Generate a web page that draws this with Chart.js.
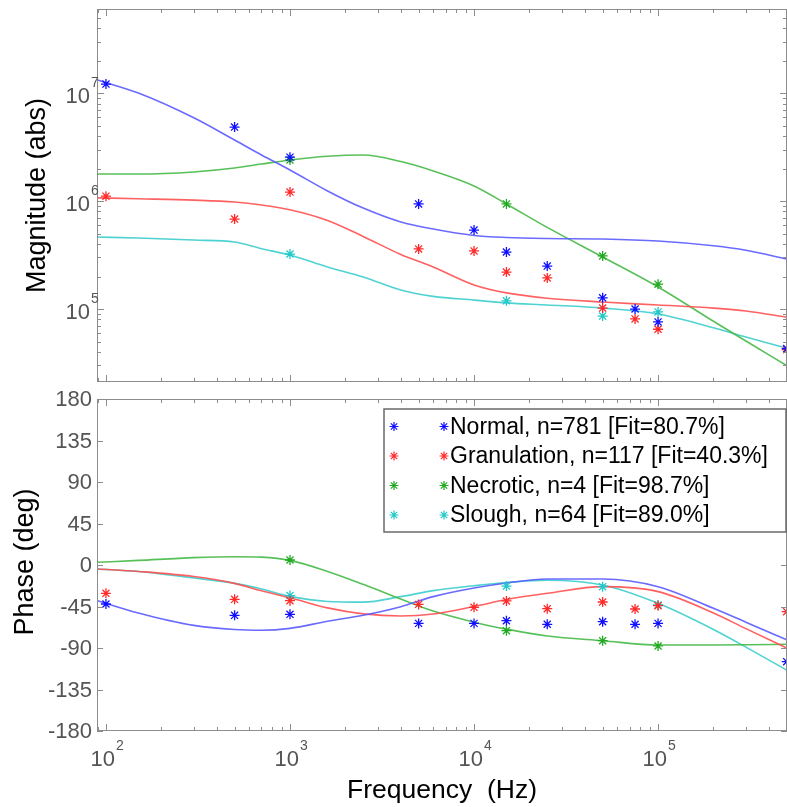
<!DOCTYPE html>
<html><head><meta charset="utf-8">
<script src="https://cdn.jsdelivr.net/npm/chart.js@4/dist/chart.umd.min.js"></script>
<style>
html,body{margin:0;padding:0;background:#fff;overflow:hidden;}
#wrap{position:relative;width:787px;height:807px;overflow:hidden;background:#fff;}
canvas{position:absolute;left:0;}
</style></head><body>
<div id="wrap">
<canvas id="mag" width="787" height="390" style="top:0px"></canvas>
<canvas id="ph" width="787" height="417" style="top:390px"></canvas>
</div>
<script>
// ---------- data ----------
const seriesLabels = ['Normal, n=781 [Fit=80.7%]', 'Granulation, n=117 [Fit=40.3%]', 'Necrotic, n=4 [Fit=98.7%]', 'Slough, n=64 [Fit=89.0%]'];
const freq = [100, 500, 1000, 5000, 10000, 15000, 25000, 50000, 75000, 100000, 500000];
const normalMag = [1.21e7, 4.84e6, 2.55e6, 9.4e5, 5.38e5, 3.37e5, 2.5e5, 1.27e5, 1.0e5, 7.6e4, 4.3e4];
const granMag   = [1.11e6, 6.8e5, 1.21e6, 3.6e5, 3.45e5, 2.2e5, 1.94e5, 1.02e5, 8.1e4, 6.5e4, 4.2e4];
const necMag    = [null, null, 2.4e6, null, null, 9.4e5, null, 3.1e5, null, 1.7e5, null];
const sloughMag = [null, null, 3.23e5, null, null, 1.19e5, null, 8.6e4, null, 9.4e4, null];
const normalPh  = [-42.3, -54.6, -53.5, -63.3, -63.3, -60.4, -64.3, -61.5, -64.3, -63.3, -104.8];
const granPh    = [-30.7, -37.2, -38.7, -42.7, -45.9, -39.0, -47.4, -40.1, -47.7, -44.1, -50.6];
const necPh     = [null, null, 5.4, null, null, -71.2, null, -82.1, null, -87.8, null];
const sloughPh  = [null, null, -33.2, null, null, -22.8, null, -23.5, null, -43.4, null];

const fitFreq = [90, 150, 300, 500, 700, 1000, 1600, 2500, 4000, 6000, 10000, 15000, 25000, 50000, 100000, 200000, 300000, 500000];
const normalFitMag = [1.32e7, 1.0e7, 5.9e6, 3.67e6, 2.67e6, 1.94e6, 1.24e6, 8.6e5, 6.4e5, 5.5e5, 4.8e5, 4.6e5, 4.5e5, 4.45e5, 4.26e5, 3.85e5, 3.5e5, 2.9e5];
const granFitMag   = [1.07e6, 1.05e6, 1.02e6, 9.8e5, 9.2e5, 8.3e5, 6.6e5, 4.7e5, 3.2e5, 2.45e5, 1.67e5, 1.41e5, 1.26e5, 1.16e5, 1.09e5, 1.02e5, 9.6e4, 8.4e4];
const necFitMag    = [1.78e6, 1.78e6, 1.86e6, 2.02e6, 2.2e6, 2.4e6, 2.6e6, 2.67e6, 2.32e6, 1.9e6, 1.38e6, 9.4e5, 5.7e5, 3.03e5, 1.6e5, 7.7e4, 5.06e4, 3.0e4];
const sloughFitMag = [4.64e5, 4.55e5, 4.35e5, 4.17e5, 3.62e5, 3.16e5, 2.45e5, 1.98e5, 1.5e5, 1.31e5, 1.21e5, 1.14e5, 1.09e5, 1.02e5, 9.0e4, 6.7e4, 5.5e4, 4.35e4];
const normalFitPh = [-38.7, -52, -65.5, -70, -70.8, -68.7, -61, -54.5, -45.2, -34.3, -25, -19.5, -15.2, -15.2, -23.5, -47, -62, -81];
const granFitPh   = [-4.3, -7, -12.5, -19.9, -28, -35.5, -46.5, -53, -55.3, -53.2, -45, -37.5, -30.7, -23.5, -28.9, -52, -69, -90];
const necFitPh    = [2.9, 5, 8, 9, 8.5, 5, -7, -21, -37, -50, -62, -69.5, -77, -82.1, -86.7, -86.7, -86.5, -86];
const sloughFitPh = [-4.3, -7, -14, -19.9, -26, -34, -39.5, -40.3, -34.3, -27.8, -22.5, -19, -16.5, -21.7, -41.6, -70, -89, -114];

const magTickValues = [1e5, 1e6, 1e7];
const freqTickValues = [1e2, 1e3, 1e4, 1e5];
const phaseTickValues = [180, 135, 90, 45, 0, -45, -90, -135, -180];

// ---------- style ----------
const markerColors = ['#1010ff', '#ff2a2a', '#22aa22', '#22c8c8'];
const lineColors = ['rgba(90,90,255,0.9)', 'rgba(255,80,80,0.9)', 'rgba(70,185,70,0.9)', 'rgba(60,205,205,0.9)'];
const FONT = '"Liberation Sans", Arial, Helvetica, sans-serif';
const XMIN = 89.4, XMAX = 5.02e5;

function mkPts(xs, ys, i) {
  const d = [];
  xs.forEach((x, k) => { if (ys[k] !== null) d.push({x: x, y: ys[k]}); });
  return {data: d, showLine: false, pointStyle: 'star', pointRadius: 5, pointHoverRadius: 5,
          borderColor: markerColors[i], backgroundColor: markerColors[i], pointBorderWidth: 1.3};
}
function mkFit(xs, ys, i) {
  return {data: xs.map((x, k) => ({x: x, y: ys[k]})), showLine: true, pointRadius: 0, pointHoverRadius: 0,
          borderColor: lineColors[i], backgroundColor: lineColors[i], borderWidth: 1.6,
          cubicInterpolationMode: 'monotone', fill: false};
}
function logTicks(min, max) {
  const major = [], minor = [];
  for (let e = Math.floor(Math.log10(min)); e <= Math.ceil(Math.log10(max)); e++) {
    for (let m = 1; m < 10; m++) {
      const v = m * Math.pow(10, e);
      if (v < min || v > max) continue;
      (m === 1 ? major : minor).push(v);
    }
  }
  return {major, minor};
}
function drawStar(ctx, x, y, r, color) {
  ctx.save();
  ctx.strokeStyle = color; ctx.lineWidth = 1.2;
  ctx.beginPath();
  for (let k = 0; k < 4; k++) {
    const a = k * Math.PI / 4;
    ctx.moveTo(x - r * Math.cos(a), y - r * Math.sin(a));
    ctx.lineTo(x + r * Math.cos(a), y + r * Math.sin(a));
  }
  ctx.stroke();
  ctx.restore();
}

function framePlugin(isMag) {
  return {
    id: 'frame',
    afterDatasetsDraw(chart) {
      const ctx = chart.ctx, a = chart.chartArea, sx = chart.scales.x, sy = chart.scales.y;
      ctx.save();
      ctx.strokeStyle = '#8c8c8c'; ctx.lineWidth = 1;
      ctx.strokeRect(a.left + 0.5, a.top + 0.5, a.right - a.left - 1, a.bottom - a.top - 1);
      ctx.beginPath();
      const xt = logTicks(XMIN, XMAX);
      const xtick = (v, len) => {
        const p = Math.round(sx.getPixelForValue(v)) + 0.5;
        ctx.moveTo(p, a.bottom); ctx.lineTo(p, a.bottom - len);
        ctx.moveTo(p, a.top); ctx.lineTo(p, a.top + len);
      };
      xt.major.forEach(v => xtick(v, 7));
      xt.minor.forEach(v => xtick(v, 4));
      const ytick = (v, len) => {
        const p = Math.round(sy.getPixelForValue(v)) + 0.5;
        ctx.moveTo(a.left, p); ctx.lineTo(a.left + len, p);
        ctx.moveTo(a.right, p); ctx.lineTo(a.right - len, p);
      };
      if (isMag) {
        const yt = logTicks(sy.min, sy.max);
        yt.major.forEach(v => ytick(v, 7));
        yt.minor.forEach(v => ytick(v, 4));
      } else {
        phaseTickValues.forEach(v => ytick(v, 6));
      }
      ctx.stroke();

      // tick labels
      ctx.fillStyle = '#555555';
      if (isMag) {
        magTickValues.forEach(v => {
          const p = sy.getPixelForValue(v);
          ctx.font = '22px ' + FONT; ctx.textAlign = 'right'; ctx.textBaseline = 'alphabetic';
          ctx.fillText('10', a.left - 7, p + 10);
          ctx.font = '14px ' + FONT; ctx.textAlign = 'left';
          ctx.fillText(String(Math.round(Math.log10(v))), a.left - 6, p - 6);
        });
      } else {
        ctx.font = '22px ' + FONT; ctx.textAlign = 'right'; ctx.textBaseline = 'middle';
        phaseTickValues.forEach(v => {
          ctx.fillText(String(v), a.left - 5, sy.getPixelForValue(v) + 1);
        });
        freqTickValues.forEach(v => {
          const p = sx.getPixelForValue(v);
          ctx.font = '22px ' + FONT; ctx.textAlign = 'right'; ctx.textBaseline = 'alphabetic';
          ctx.fillText('10', p + 9, a.bottom + 35);
          ctx.font = '14px ' + FONT; ctx.textAlign = 'left';
          ctx.fillText(String(Math.round(Math.log10(v))), p + 10, a.bottom + 19);
        });
        // x title
        ctx.fillStyle = '#000';
        ctx.font = '26.5px ' + FONT; ctx.textAlign = 'center'; ctx.textBaseline = 'alphabetic';
        ctx.fillText('Frequency  (Hz)', 442, a.bottom + 67);
      }
      // y title
      ctx.fillStyle = '#000';
      ctx.font = '27px ' + FONT; ctx.textAlign = 'center'; ctx.textBaseline = 'alphabetic';
      ctx.save();
      if (isMag) { ctx.translate(45, (a.top + a.bottom) / 2); }
      else { ctx.translate(33, (a.top + a.bottom) / 2 - 3); }
      ctx.rotate(-Math.PI / 2);
      ctx.fillText(isMag ? 'Magnitude (abs)' : 'Phase (deg)', 0, 0);
      ctx.restore();
      ctx.restore();
    }
  };
}

const legendPlugin = {
  id: 'legendBox',
  afterDraw(chart) {
    const ctx = chart.ctx;
    ctx.save();
    const x0 = 384, y0 = 19, x1 = 786, y1 = 142;
    ctx.fillStyle = '#fff';
    ctx.fillRect(x0, y0, x1 - x0, y1 - y0);
    ctx.strokeStyle = '#6a6a6a'; ctx.lineWidth = 1.5;
    ctx.strokeRect(x0, y0, x1 - x0, y1 - y0);
    seriesLabels.forEach((name, i) => {
      const y = 36.5 + i * 29.5;
      drawStar(ctx, 394, y, 4.5, markerColors[i]);
      drawStar(ctx, 444, y, 4.5, markerColors[i]);
      ctx.fillStyle = '#000';
      ctx.font = '23px ' + FONT; ctx.textAlign = 'left'; ctx.textBaseline = 'middle';
      ctx.fillText(name, 450, y + 1);
    });
    ctx.restore();
  }
};

const common = {
  responsive: false, animation: false, devicePixelRatio: 1,
  plugins: {legend: {display: false}, tooltip: {enabled: false}},
  events: []
};

new Chart(document.getElementById('mag'), {
  type: 'scatter',
  data: {datasets: [
    mkPts(freq, normalMag, 0), mkPts(freq, granMag, 1), mkPts(freq, necMag, 2), mkPts(freq, sloughMag, 3),
    mkFit(fitFreq, normalFitMag, 0), mkFit(fitFreq, granFitMag, 1), mkFit(fitFreq, necFitMag, 2), mkFit(fitFreq, sloughFitMag, 3)
  ]},
  options: Object.assign({}, common, {
    layout: {autoPadding: false, padding: {left: 97, top: 9, right: 0, bottom: 8}},
    scales: {
      x: {type: 'logarithmic', min: XMIN, max: XMAX, display: false},
      y: {type: 'logarithmic', min: 2.11e4, max: 6.0e7, display: false}
    }
  }),
  plugins: [framePlugin(true)]
});

new Chart(document.getElementById('ph'), {
  type: 'scatter',
  data: {datasets: [
    mkPts(freq, normalPh, 0), mkPts(freq, granPh, 1), mkPts(freq, necPh, 2), mkPts(freq, sloughPh, 3),
    mkFit(fitFreq, normalFitPh, 0), mkFit(fitFreq, granFitPh, 1), mkFit(fitFreq, necFitPh, 2), mkFit(fitFreq, sloughFitPh, 3)
  ]},
  options: Object.assign({}, common, {
    layout: {autoPadding: false, padding: {left: 97, top: 9, right: 0, bottom: 76}},
    scales: {
      x: {type: 'logarithmic', min: XMIN, max: XMAX, display: false},
      y: {type: 'linear', min: -180, max: 180, display: false}
    }
  }),
  plugins: [framePlugin(false), legendPlugin]
});
</script>
</body></html>
